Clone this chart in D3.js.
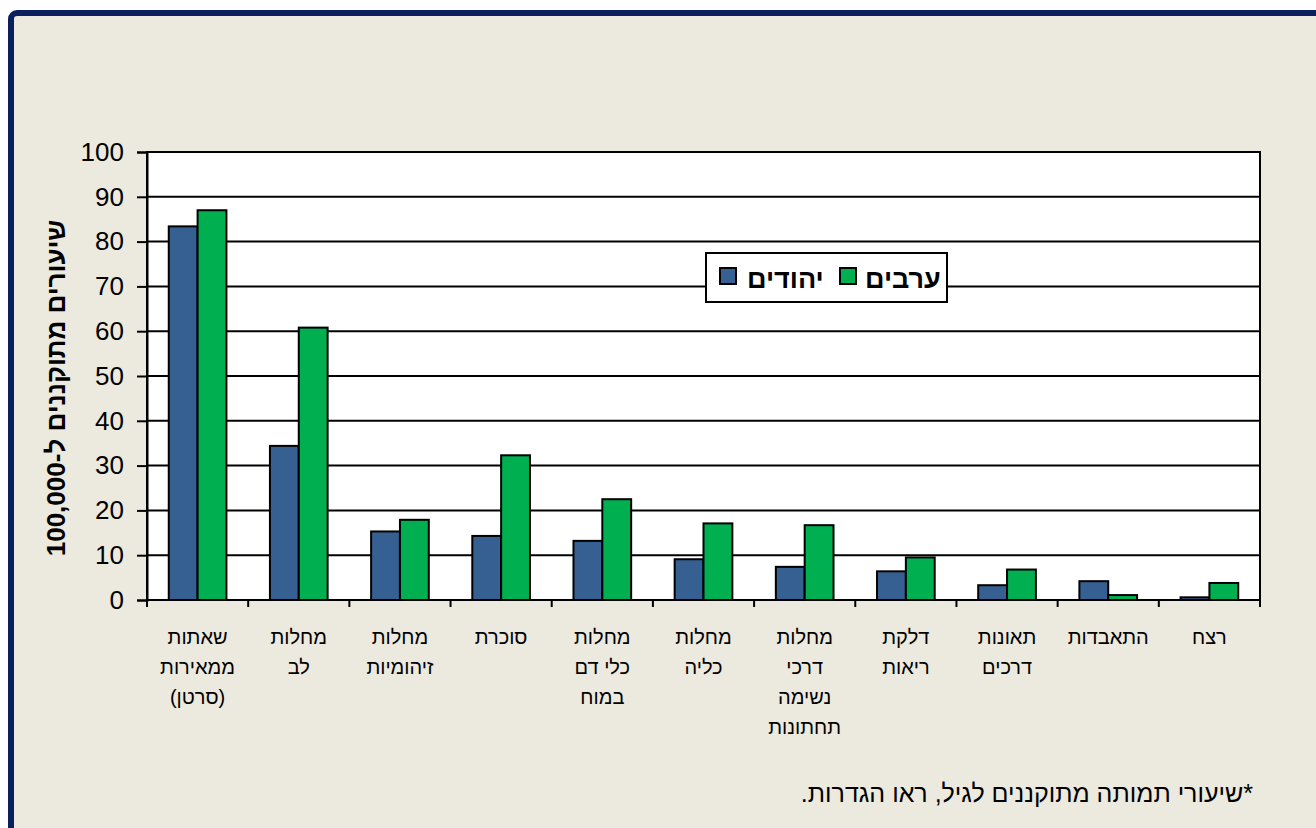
<!DOCTYPE html>
<html>
<head>
<meta charset="utf-8">
<script src="https://cdn.jsdelivr.net/npm/d3@7"></script>
<style>
  body { margin: 0; background: #fff; }
  svg { display: block; font-family: "Liberation Sans", Arial, sans-serif; }
</style>
</head>
<body>
<svg width="1316" height="828"></svg>
<script>
// categorieen (van links naar rechts), elke regel een label-regel
var categories = [
    ["שאתות", "ממאירות", "(סרטן)"],
    ["מחלות", "לב"],
    ["מחלות", "זיהומיות"],
    ["סוכרת"],
    ["מחלות", "כלי דם", "במוח"],
    ["מחלות", "כליה"],
    ["מחלות", "דרכי", "נשימה", "תחתונות"],
    ["דלקת", "ריאות"],
    ["תאונות", "דרכים"],
    ["התאבדות"],
    ["רצח"]
];
var jews   = [83.4, 34.4, 15.3, 14.3, 13.2, 9.1, 7.4, 6.4, 3.3, 4.2, 0.6];
var arabs  = [87.0, 60.8, 17.9, 32.3, 22.5, 17.1, 16.7, 9.5, 6.8, 1.1, 3.8];
var seriesNames = ["יהודים", "ערבים"];
var yTicks = [0, 10, 20, 30, 40, 50, 60, 70, 80, 90, 100];

var svg = d3.select("svg");

// achtergrond en rand
svg.append("rect").attr("x", 11).attr("y", 13).attr("width", 1340).attr("height", 840)
    .attr("rx", 6).attr("fill", "#ECE9DF").attr("stroke", "#0A1F5C").attr("stroke-width", 6);

var margin = { top: 152, left: 147 },
    width = 1260 - 147,
    height = 600 - 152;

var g = svg.append("g").attr("transform", "translate(" + margin.left + "," + margin.top + ")");

var x = d3.scaleBand().domain(d3.range(categories.length)).range([0, width]).paddingInner(0).paddingOuter(0);
var xs = d3.scaleBand().domain([0, 1]).range([x.bandwidth() * 0.215, x.bandwidth() * 0.785]);
var y = d3.scaleLinear().domain([0, 100]).range([height, 0]);

g.append("rect").attr("width", width).attr("height", height).attr("fill", "#fff");

// rasterlijnen
g.selectAll(".grid").data(yTicks.slice(1)).enter().append("line")
    .attr("x1", 0).attr("x2", width)
    .attr("y1", function (d) { return y(d); }).attr("y2", function (d) { return y(d); })
    .attr("stroke", "#000").attr("stroke-width", 2);

var colors = ["#366092", "#00B050"];
var data = categories.map(function (c, i) { return [jews[i], arabs[i]]; });

var groups = g.selectAll(".cat").data(data).enter().append("g")
    .attr("transform", function (d, i) { return "translate(" + x(i) + ",0)"; });

groups.selectAll("rect").data(function (d) { return d; }).enter().append("rect")
    .attr("x", function (d, j) { return xs(j); })
    .attr("y", function (d) { return y(d); })
    .attr("width", xs.bandwidth())
    .attr("height", function (d) { return height - y(d); })
    .attr("fill", function (d, j) { return colors[j]; })
    .attr("stroke", "#000").attr("stroke-width", 2);

// rand van plotgebied
g.append("rect").attr("width", width).attr("height", height)
    .attr("fill", "none").attr("stroke", "#000").attr("stroke-width", 2);

// y-as
var yAxis = g.append("g")
    .call(d3.axisLeft(y).tickValues(yTicks).tickSize(10).tickPadding(13));
yAxis.select(".domain").attr("stroke-width", 2);
yAxis.selectAll(".tick line").attr("stroke-width", 2);
yAxis.selectAll("text").attr("font-size", 26).attr("font-family", "Liberation Sans, Arial").attr("fill", "#000");

// x-as ticks op bandgrenzen
g.selectAll(".xtick").data(d3.range(categories.length + 1)).enter().append("line")
    .attr("x1", function (i) { return i * x.step(); }).attr("x2", function (i) { return i * x.step(); })
    .attr("y1", height).attr("y2", height + 7)
    .attr("stroke", "#000").attr("stroke-width", 2);

// x-labels
var lab = g.selectAll(".xlab").data(categories).enter().append("text")
    .attr("x", function (d, i) { return x(i) + x.bandwidth() / 2; })
    .attr("y", height + 44)
    .attr("text-anchor", "middle")
    .attr("direction", "rtl")
    .attr("font-size", 20)
    .attr("fill", "#000");
lab.selectAll("tspan").data(function (d) { return d; }).enter().append("tspan")
    .attr("x", function () { return d3.select(this.parentNode).attr("x"); })
    .attr("dy", function (d, i) { return i === 0 ? 0 : 30; })
    .text(function (d) { return d; });

// y-as titel
svg.append("text")
    .attr("transform", "translate(65,388) rotate(-90)")
    .attr("text-anchor", "middle")
    .attr("direction", "rtl")
    .attr("font-size", 26).attr("font-weight", "bold")
    .text("שיעורים מתוקננים ל-100,000");

// legenda
var leg = svg.append("g").attr("transform", "translate(706,253)");
leg.append("rect").attr("width", 241).attr("height", 49).attr("fill", "#fff")
    .attr("stroke", "#000").attr("stroke-width", 2);
var legX = [[14, 41], [134, 159]];
seriesNames.forEach(function (n, i) {
    leg.append("rect").attr("x", legX[i][0]).attr("y", 15).attr("width", 16).attr("height", 16)
        .attr("fill", colors[i]).attr("stroke", "#000").attr("stroke-width", 2);
    leg.append("text").attr("x", legX[i][1]).attr("y", 35)
        .attr("font-size", 27).attr("font-weight", "bold")
        .text(n);
});

// voetnoot
svg.append("text")
    .attr("x", 1253).attr("y", 802)
    .attr("direction", "rtl")
    .attr("text-anchor", "start")
    .attr("font-size", 25)
    .text("*שיעורי תמותה מתוקננים לגיל, ראו הגדרות.");
</script>
</body>
</html>
